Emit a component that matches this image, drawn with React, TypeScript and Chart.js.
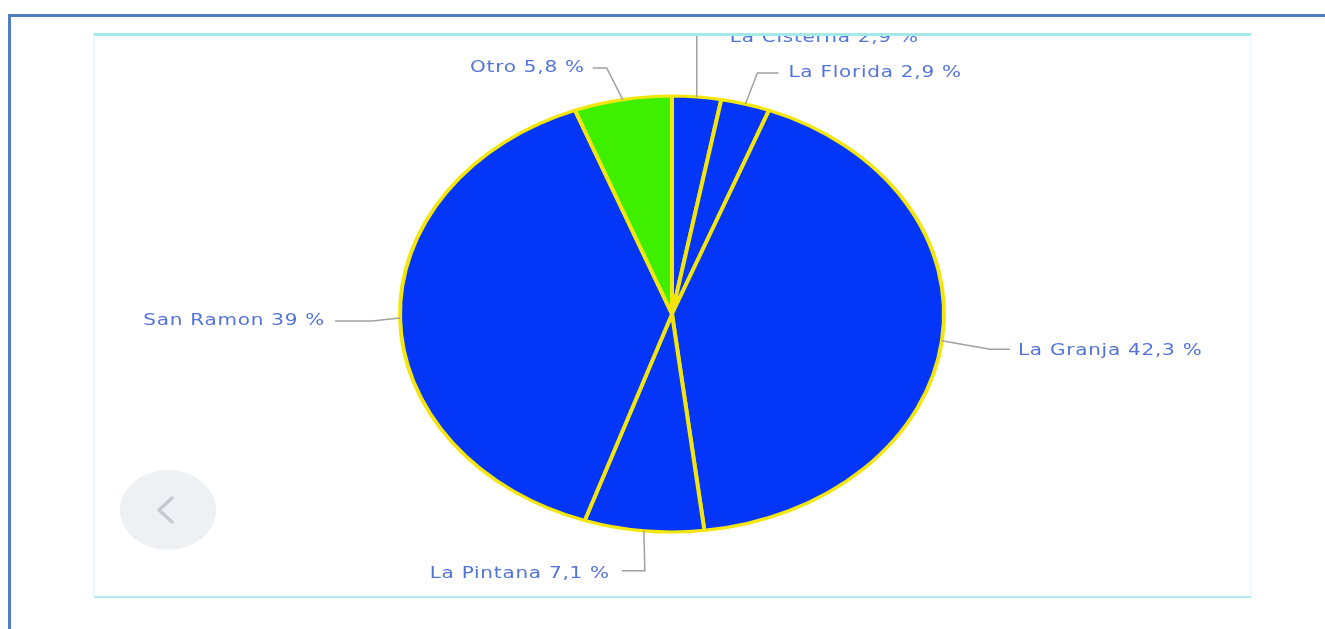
import React, { useEffect, useRef } from "react";
import { Chart, registerables } from "chart.js";

Chart.register(...registerables);

// ---- data ----
const categories = ["La Cisterna", "La Florida", "La Granja", "La Pintana", "San Ramon", "Otro"];
const percentages = [2.9, 2.9, 42.3, 7.1, 39, 5.8];
const sliceColors = ["#0436f7", "#0436f7", "#0436f7", "#0436f7", "#0436f7", "#3ef000"];

// ---- leader line layout (relative to each slice's outer edge midpoint) ----
// dx, dy: elbow offset; arm: horizontal segment; gap: space before text; side: +1 right / -1 left; textDy
const leaderLayout = [
  { dx: 0, dy: -72, arm: 0, gap: 33, side: 1, textDy: 13 },
  { dx: 12, dy: -31, arm: 21, gap: 10, side: 1, textDy: 0 },
  { dx: 48, dy: 8.5, arm: 20, gap: 8, side: 1, textDy: 2 },
  { dx: 1, dy: 40, arm: 23, gap: 12, side: -1, textDy: 3 },
  { dx: -28, dy: 3, arm: 37, gap: 10, side: -1, textDy: 0 },
  { dx: -16, dy: -31.6, arm: 14, gap: 8, side: -1, textDy: 0 },
];

const Y_SQUASH = 218 / 272;
const TEXT_STRETCH = 1.25;

const fmt = (v: number) => String(v).replace(".", ",") + " %";

const ellipsePlugin = {
  id: "ellipseSquash",
  beforeDatasetsDraw(chart: any) {
    const a = chart.getDatasetMeta(0).data[0];
    const ctx = chart.ctx;
    ctx.save();
    ctx.translate(a.x, a.y);
    ctx.scale(1, Y_SQUASH);
    ctx.translate(-a.x, -a.y);
  },
  afterDatasetsDraw(chart: any) {
    chart.ctx.restore();
  },
};

const labelPlugin = {
  id: "leaderLabels",
  afterDraw(chart: any) {
    const ctx = chart.ctx;
    const meta = chart.getDatasetMeta(0);
    meta.data.forEach((arc: any, i: number) => {
      const mid = (arc.startAngle + arc.endAngle) / 2;
      const ex = arc.x + arc.outerRadius * Math.cos(mid);
      const ey = arc.y + arc.outerRadius * Y_SQUASH * Math.sin(mid);
      const L = leaderLayout[i];
      const bx = ex + L.dx;
      const by = ey + L.dy;
      const hx = bx + L.side * L.arm;
      ctx.save();
      ctx.strokeStyle = "#a0a0a0";
      ctx.lineWidth = 1.5;
      ctx.beginPath();
      ctx.moveTo(ex, ey);
      ctx.lineTo(bx, by);
      ctx.lineTo(hx, by);
      ctx.stroke();
      const tx = hx + L.side * L.gap;
      const ty = by + L.textDy;
      ctx.translate(tx, ty);
      ctx.scale(TEXT_STRETCH, 1);
      ctx.font = '16px "DejaVu Sans"';
      (ctx as any).letterSpacing = "0.6px";
      ctx.fillStyle = "#5274d8";
      ctx.textBaseline = "middle";
      ctx.textAlign = L.side > 0 ? "left" : "right";
      ctx.fillText(categories[i] + " " + fmt(percentages[i]), 0, 0);
      ctx.restore();
    });
  },
};

export default function App() {
  const ref = useRef<HTMLCanvasElement | null>(null);

  useEffect(() => {
    if (!ref.current) return;
    const chart = new Chart(ref.current, {
      type: "pie",
      data: {
        labels: categories,
        datasets: [
          {
            data: percentages,
            backgroundColor: sliceColors,
            borderColor: "#f3e60c",
            borderWidth: 4,
          },
        ],
      },
      options: {
        responsive: false,
        animation: false,
        radius: 272,
        layout: { padding: { left: 0, right: 1, top: 0, bottom: 2 } },
        plugins: {
          legend: { display: false },
          tooltip: { enabled: false },
        },
      } as any,
      plugins: [ellipsePlugin, labelPlugin],
    });
    return () => chart.destroy();
  }, []);

  return (
    <div
      style={{
        position: "fixed",
        left: 0,
        top: 0,
        width: 1325,
        height: 629,
        overflow: "hidden",
        background: "#ffffff",
      }}
    >
      {/* outer blue frame */}
      <div
        style={{
          position: "absolute",
          left: 8,
          top: 14,
          width: 1400,
          height: 700,
          borderTop: "3px solid #4f7fc2",
          borderLeft: "3px solid #4f7fc2",
        }}
      />
      {/* inner panel */}
      <div
        style={{
          position: "absolute",
          left: 93,
          top: 33,
          width: 1155,
          height: 560,
          borderTop: "3px solid #a4e9ea",
          borderBottom: "2px solid #b0ecee",
          borderLeft: "2px solid #e3fafa",
          borderRight: "2px solid #e8fbfb",
          overflow: "hidden",
        }}
      >
        <canvas ref={ref} width={1155} height={560} style={{ display: "block", marginTop: -1 }} />
        {/* back button */}
        <div
          style={{
            position: "absolute",
            left: 168 - 95 - 48,
            top: 510 - 36 - 40,
            width: 96,
            height: 80,
            borderRadius: "50%",
            background: "#eef1f4",
          }}
        >
          <svg width={96} height={80} style={{ display: "block" }}>
            <polyline
              points="52,28 39,40 52,52"
              fill="none"
              stroke="#c6c9cd"
              strokeWidth={3.5}
              strokeLinecap="round"
              strokeLinejoin="round"
            />
          </svg>
        </div>
      </div>
    </div>
  );
}
